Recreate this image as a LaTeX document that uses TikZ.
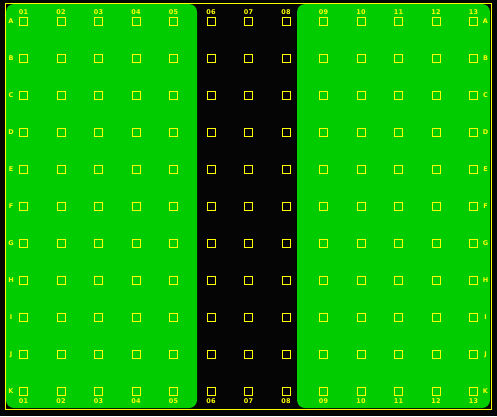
\documentclass[tikz,border=0pt]{standalone}
\usepackage{fontspec}
\setmainfont{DejaVu Sans}
\definecolor{bg}{RGB}{5,5,5}
\definecolor{plate}{RGB}{0,204,0}
\definecolor{yel}{RGB}{255,255,0}
\begin{document}
\begin{tikzpicture}[x=1pt,y=-1pt,
  well/.style={draw=yel,line width=1pt,minimum size=8pt,inner sep=0pt},
  lab/.style={text=yel,font=\fontsize{6.5}{7}\selectfont\bfseries,inner sep=0pt}]
\fill[bg] (0,0) rectangle (497,416);
\useasboundingbox (0,0) rectangle (497,416);
\fill[plate,rounded corners=8pt] (6,4) rectangle (197,408);
\fill[plate,rounded corners=8pt] (297,4) rectangle (490,408);
\draw[yel,line width=1pt] (5.5,3.5) rectangle (491.5,409.5);
\foreach \r [count=\j from 0] in {A,B,C,D,E,F,G,H,I,J,K}{
  \foreach \c in {1,...,13}{
    \node[well] (w-\r-\c) at ({23.5+(\c-1)*37.5},{21.5+\j*37}) {};
  }
  \node[lab] (rl-\r) at (11,{21.5+\j*37}) {\r};
  \node[lab] (rr-\r) at (485.5,{21.5+\j*37}) {\r};
}
\foreach \c [count=\i from 1] in {01,02,03,04,05,06,07,08,09,10,11,12,13}{
  \node[lab] (ct-\i) at ({23.5+(\i-1)*37.5},12) {\c};
  \node[lab] (cb-\i) at ({23.5+(\i-1)*37.5},401) {\c};
}
\end{tikzpicture}
\end{document}
